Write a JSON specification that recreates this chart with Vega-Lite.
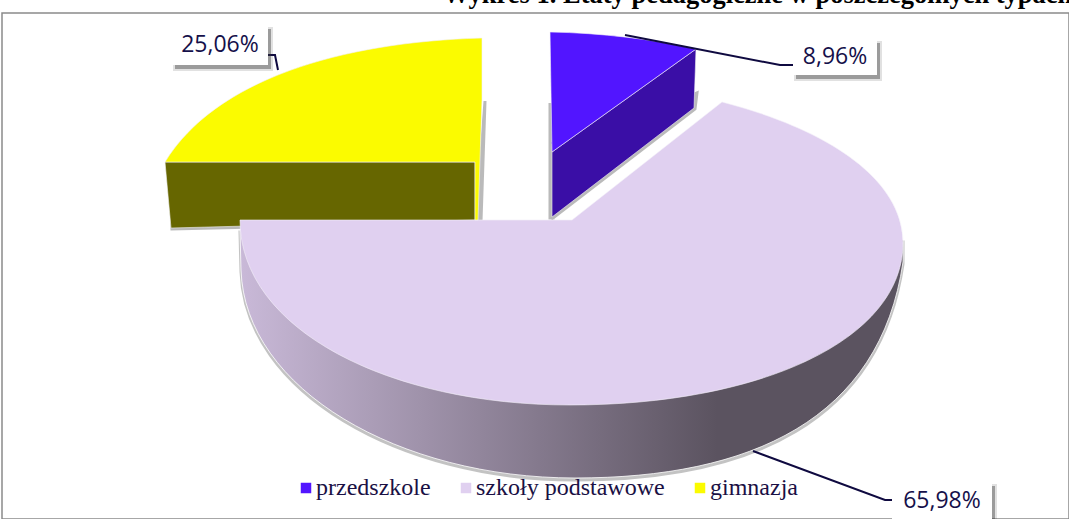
{
"$schema":"https://vega.github.io/schema/vega-lite/v6.json",
"autosize":{"type":"none"},
"padding":{"left":2,"top":13,"right":0,"bottom":0},
"width":1067,"height":506,
"background":"white",
"view":{"stroke":"#8a8a8a","strokeWidth":1.5,"fill":"white"},
"title":{"text":"Wykres 1. Etaty pedagogiczne w poszczególnych typach","anchor":"start","frame":"group","dx":441,"offset":-22,"baseline":"bottom","font":"Liberation Serif","fontWeight":"bold","fontSize":26.5,"color":"#000000"},
"data":{"values":[
{"typ":"przedszkole","udzial":8.96,"etykieta":"8,96%"},
{"typ":"szkoły podstawowe","udzial":65.98,"etykieta":"65,98%"},
{"typ":"gimnazja","udzial":25.06,"etykieta":"25,06%"}
]},
"layer":[
{"transform":[{"filter":"datum.typ !== 'szkoły podstawowe'"}],
 "mark":{"type":"point","filled":true,"size":4,"opacity":0.4,"fill":"#555555","stroke":"#555555","strokeWidth":3,"xOffset":1,"yOffset":1},
 "encoding":{
 "x":{"field":"udzial","type":"quantitative","axis":null,"scale":{"domain":[8.96,25.06,65.98],"range":[550,473,570],"zero":false,"nice":false}},
 "y":{"field":"udzial","type":"quantitative","axis":null,"scale":{"domain":[8.96,25.06,65.98],"range":[139,149,207],"zero":false,"nice":false}},
 "shape":{"field":"typ","type":"nominal","legend":null,"scale":{"domain":["przedszkole","szkoły podstawowe","gimnazja"],"range":["M0,0 L144,-60 L142,-44 L0,65 Z M-3,-50 L-3,65 L0,65 Z","M0,0 Z","M-304,60 L-304,66 L-60,60 Z M9,-62 L5,58 L0,58 Z"]}}
 }},
{"transform":[{"filter":"datum.typ !== 'szkoły podstawowe'"}],
 "mark":{"type":"point","filled":true,"size":4,"opacity":1,"stroke":"#f0f0f0","strokeWidth":0.6},
 "encoding":{
 "x":{"field":"udzial","type":"quantitative","axis":null,"scale":{"domain":[8.96,25.06,65.98],"range":[550,473,570],"zero":false,"nice":false}},
 "y":{"field":"udzial","type":"quantitative","axis":null,"scale":{"domain":[8.96,25.06,65.98],"range":[139,149,207],"zero":false,"nice":false}},
 "shape":{"field":"typ","type":"nominal","legend":null,"scale":{"domain":["przedszkole","szkoły podstawowe","gimnazja"],"range":["M0,0 L144,-103 L142,-44 L0,65 Z","M0,0 Z","M-310,0 L0,0 L0,58 L-304,66 Z"]}},
 "color":{"field":"typ","type":"nominal","legend":null,"scale":{"domain":["przedszkole","szkoły podstawowe","gimnazja"],"range":["#3a0ea6","#5b5360","#666600"]}}
 }},
{"transform":[{"filter":"datum.typ === 'szkoły podstawowe'"}],
 "mark":{"type":"point","filled":true,"size":4,"opacity":0.35,"fill":"#555555","stroke":"#555555","strokeWidth":3,"yOffset":2},
 "encoding":{
 "x":{"field":"udzial","type":"quantitative","axis":null,"scale":{"domain":[8.96,25.06,65.98],"range":[550,473,570],"zero":false,"nice":false}},
 "y":{"field":"udzial","type":"quantitative","axis":null,"scale":{"domain":[8.96,25.06,65.98],"range":[139,149,207],"zero":false,"nice":false}},
 "shape":{"field":"typ","type":"nominal","legend":null,"scale":{"domain":["szkoły podstawowe"],"range":["M-332,10 L-331,50 C-327,170 -172,258 3,258 C178,258 308,200 331,42 L331,20 Z"]}}
 }},
{"transform":[{"filter":"datum.typ === 'szkoły podstawowe'"}],
 "mark":{"type":"point","filled":true,"size":4,"opacity":1,"stroke":"#ffffff","strokeWidth":0.8,
  "fill":{"gradient":"linear","x1":0,"y1":0,"x2":1,"y2":0,"stops":[{"offset":0,"color":"#c9b9d8"},{"offset":0.72,"color":"#5b5360"},{"offset":1,"color":"#5b5360"}]}},
 "encoding":{
 "x":{"field":"udzial","type":"quantitative","axis":null,"scale":{"domain":[8.96,25.06,65.98],"range":[550,473,570],"zero":false,"nice":false}},
 "y":{"field":"udzial","type":"quantitative","axis":null,"scale":{"domain":[8.96,25.06,65.98],"range":[139,149,207],"zero":false,"nice":false}},
 "shape":{"field":"typ","type":"nominal","legend":null,"scale":{"domain":["szkoły podstawowe"],"range":["M-332,10 L-331,50 C-327,170 -172,258 3,258 C178,258 308,200 331,42 L331,20 Z"]}}
 }},
{"mark":{"type":"square","size":1,"opacity":1},
 "encoding":{
 "x":{"field":"udzial","type":"quantitative","axis":null,"scale":{"domain":[8.96,25.06,65.98],"range":[550,473,570],"zero":false,"nice":false}},
 "y":{"field":"udzial","type":"quantitative","axis":null,"scale":{"domain":[8.96,25.06,65.98],"range":[130,140,230],"zero":false,"nice":false}},
 "color":{"field":"typ","type":"nominal","scale":{"domain":["przedszkole","szkoły podstawowe","gimnazja"],"range":["#5215ff","#e0d0f0","#fbfb00"]},
  "legend":{"title":null,"orient":"none","legendX":292,"legendY":463,"direction":"horizontal","columns":3,"symbolType":"square","symbolSize":110,"symbolStrokeWidth":0,"labelFont":"Liberation Serif","labelFontSize":24,"labelColor":"#1a1044","labelOffset":-2,"columnPadding":23,"labelLimit":300}}
 }},
{"mark":{"type":"point","filled":true,"size":4,"opacity":1,"stroke":"#f4f0f8","strokeWidth":0.6},
 "encoding":{
 "x":{"field":"udzial","type":"quantitative","axis":null,"scale":{"domain":[8.96,25.06,65.98],"range":[550,473,570],"zero":false,"nice":false}},
 "y":{"field":"udzial","type":"quantitative","axis":null,"scale":{"domain":[8.96,25.06,65.98],"range":[139,149,207],"zero":false,"nice":false}},
 "shape":{"field":"typ","type":"nominal","legend":null,"scale":{"domain":["przedszkole","szkoły podstawowe","gimnazja"],"range":["M0,0 L-2,-120 C50,-119 100,-113 144,-103 Z","M0,0 L-332,0 C-332,110 -182,185 -2,185 C188,185 331,120 331,23 C331,-40 258,-90 150,-118 Z","M0,0 L-310,0 C-260,-82 -135,-120 7,-124 L7,-62 L3,58 L0,58 Z"]}},
 "color":{"field":"typ","type":"nominal","legend":null,"scale":{"domain":["przedszkole","szkoły podstawowe","gimnazja"],"range":["#5215ff","#e0d0f0","#fbfb00"]}}
 }},
{"mark":{"type":"point","filled":false,"size":4,"opacity":1,"stroke":"#0f0a40","strokeWidth":2},
 "encoding":{
 "x":{"field":"udzial","type":"quantitative","axis":null,"scale":{"domain":[8.96,25.06,65.98],"range":[833,218,940],"zero":false,"nice":false}},
 "y":{"field":"udzial","type":"quantitative","axis":null,"scale":{"domain":[8.96,25.06,65.98],"range":[44,32,488],"zero":false,"nice":false}},
 "shape":{"field":"typ","type":"nominal","legend":null,"scale":{"domain":["przedszkole","szkoły podstawowe","gimnazja"],"range":["M-210,-22 L-55,8 L-38,8","M-189,-50 L-57,-1 L-42,-1","M58,25 L55,10 L48,10"]}}
 }},
{"mark":{"type":"point","filled":true,"size":4,"opacity":0.14,"fill":"#333333","stroke":"#333333","strokeWidth":4,"xOffset":3,"yOffset":4},
 "encoding":{
 "x":{"field":"udzial","type":"quantitative","axis":null,"scale":{"domain":[8.96,25.06,65.98],"range":[833,218,940],"zero":false,"nice":false}},
 "y":{"field":"udzial","type":"quantitative","axis":null,"scale":{"domain":[8.96,25.06,65.98],"range":[44,32,488],"zero":false,"nice":false}},
 "shape":{"field":"typ","type":"nominal","legend":null,"scale":{"domain":["przedszkole","szkoły podstawowe","gimnazja"],"range":["M-42,-18 H42 V18 H-42 Z","M-50,-19 H50 V19 H-50 Z","M-48,-20 H48 V20 H-48 Z"]}}
 }},
{"mark":{"type":"point","filled":true,"size":4,"opacity":0.4,"fill":"#333333","xOffset":3,"yOffset":4},
 "encoding":{
 "x":{"field":"udzial","type":"quantitative","axis":null,"scale":{"domain":[8.96,25.06,65.98],"range":[833,218,940],"zero":false,"nice":false}},
 "y":{"field":"udzial","type":"quantitative","axis":null,"scale":{"domain":[8.96,25.06,65.98],"range":[44,32,488],"zero":false,"nice":false}},
 "shape":{"field":"typ","type":"nominal","legend":null,"scale":{"domain":["przedszkole","szkoły podstawowe","gimnazja"],"range":["M-42,-18 H42 V18 H-42 Z","M-50,-19 H50 V19 H-50 Z","M-48,-20 H48 V20 H-48 Z"]}}
 }},
{"mark":{"type":"point","filled":true,"size":4,"opacity":1,"fill":"#ffffff"},
 "encoding":{
 "x":{"field":"udzial","type":"quantitative","axis":null,"scale":{"domain":[8.96,25.06,65.98],"range":[833,218,940],"zero":false,"nice":false}},
 "y":{"field":"udzial","type":"quantitative","axis":null,"scale":{"domain":[8.96,25.06,65.98],"range":[44,32,488],"zero":false,"nice":false}},
 "shape":{"field":"typ","type":"nominal","legend":null,"scale":{"domain":["przedszkole","szkoły podstawowe","gimnazja"],"range":["M-42,-18 H42 V18 H-42 Z","M-50,-19 H50 V19 H-50 Z","M-48,-20 H48 V20 H-48 Z"]}}
 }},
{"mark":{"type":"text","font":"Open Sans","fontSize":23,"color":"#15104a","align":"center","baseline":"middle"},
 "encoding":{
 "x":{"field":"udzial","type":"quantitative","axis":null,"scale":{"domain":[8.96,25.06,65.98],"range":[833,218,940],"zero":false,"nice":false}},
 "y":{"field":"udzial","type":"quantitative","axis":null,"scale":{"domain":[8.96,25.06,65.98],"range":[44,32,488],"zero":false,"nice":false}},
 "text":{"field":"etykieta","type":"nominal"}
 }}
],
"resolve":{"scale":{"x":"independent","y":"independent","shape":"independent","color":"independent"}}
}
